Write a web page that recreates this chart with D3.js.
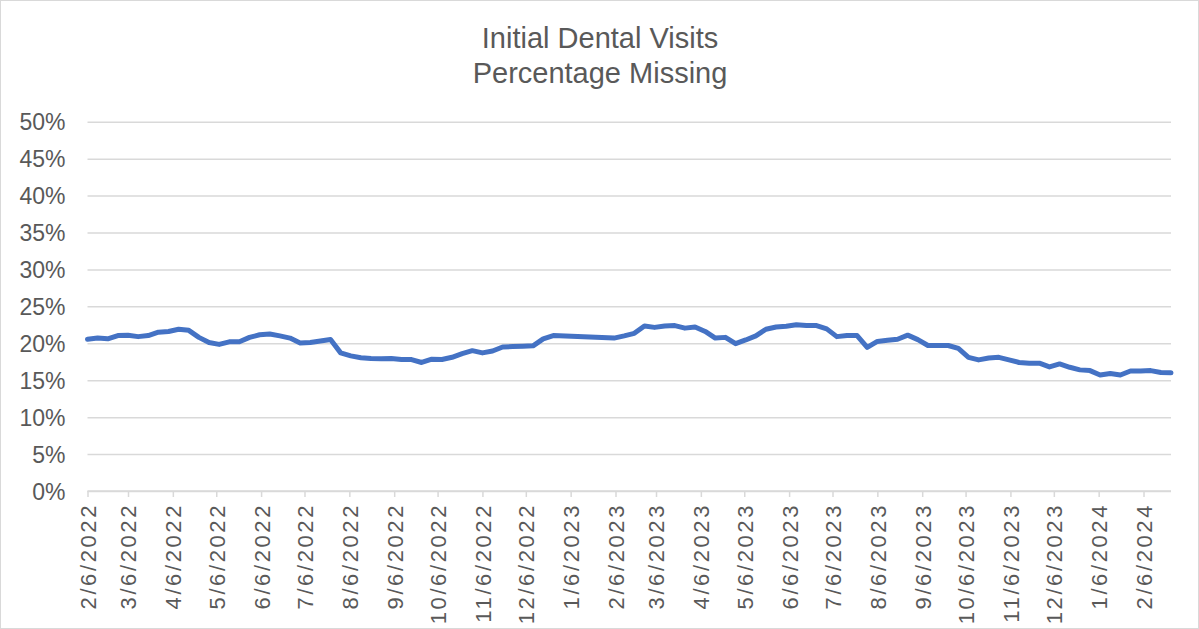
<!DOCTYPE html>
<html>
<head>
<meta charset="utf-8">
<script src="https://cdn.jsdelivr.net/npm/d3@7"></script>
<style>
  body { margin: 0; background: #fff; }
  svg { display: block; }
  text { font-family: "Liberation Sans", Arial, sans-serif; fill: #595959; }
</style>
</head>
<body>
<svg id="chart" width="1199" height="629"></svg>
<script>
// Chart title, two lines
const titleLines = ["Initial Dental Visits", "Percentage Missing"];

// Weekly series, first week ending 2/6/2022; null = week with no report
const firstWeek = "2/6/2022";
const missingPct = [
  20.55, 20.7, 20.6, 21.05, 21.1, 20.9, 21.05, 21.5, 21.6, 21.9,
  21.75, 20.8, 20.1, 19.85, 20.2, 20.2, 20.8, 21.15, 21.25, 21.0,
  20.7, 20.05, 20.1, 20.3, 20.5, 18.7, 18.3, 18.05, 17.95, 17.9,
  17.95, 17.8, 17.8, 17.4, 17.85, 17.8, 18.1, 18.6, 19.0, 18.7,
  18.95, 19.5, 19.55, 19.6, 19.65, 20.6, 21.05, null, null, null,
  null, null, 20.7, 21.0, 21.35, 22.35, 22.15, 22.35, 22.4, 22.05,
  22.2, 21.6, 20.7, 20.8, 19.95, 20.45, 21.0, 21.9, 22.2, 22.3,
  22.5, 22.4, 22.4, 21.95, 20.9, 21.05, 21.05, 19.45, 20.25, 20.4,
  20.55, 21.1, 20.5, 19.7, 19.7, 19.7, 19.3, 18.1, 17.75, 18.0,
  18.1, 17.75, 17.4, 17.3, 17.3, 16.8, 17.2, 16.75, 16.4, 16.3,
  15.7, 15.9, 15.7, 16.25, 16.25, 16.3, 16.05, 16.0
];

// Axis ticks
const yTickValues = [0, 5, 10, 15, 20, 25, 30, 35, 40, 45, 50];
const xTickLabels = [
  "2/6/2022", "3/6/2022", "4/6/2022", "5/6/2022", "6/6/2022", "7/6/2022",
  "8/6/2022", "9/6/2022", "10/6/2022", "11/6/2022", "12/6/2022", "1/6/2023",
  "2/6/2023", "3/6/2023", "4/6/2023", "5/6/2023", "6/6/2023", "7/6/2023",
  "8/6/2023", "9/6/2023", "10/6/2023", "11/6/2023", "12/6/2023", "1/6/2024",
  "2/6/2024"
];

const parseDate = d3.utcParse("%m/%d/%Y");
const fmtDate = d => `${d.getUTCMonth() + 1}/${d.getUTCDate()}/${d.getUTCFullYear()}`;

const start = parseDate(firstWeek);
const points = missingPct
  .map((v, i) => ({ date: d3.utcDay.offset(start, i * 7), value: v }))
  .filter(d => d.value !== null);
const lastDate = d3.utcDay.offset(start, (missingPct.length - 1) * 7);
const xTicks = xTickLabels.map(parseDate);

const svg = d3.select("#chart");
const W = 1199, H = 629;
const plot = { left: 87.5, right: 1171, top: 121.7, bottom: 491 };

// chart frame
svg.append("rect")
  .attr("x", 0.5).attr("y", 0.5)
  .attr("width", W - 1).attr("height", H - 1)
  .attr("fill", "#fff").attr("stroke", "#D9D9D9").attr("stroke-width", 1);

const x = d3.scaleUtc().domain([start, lastDate]).range([plot.left, plot.right]);
const y = d3.scaleLinear().domain([0, 50]).range([plot.bottom, plot.top]);

// title
svg.append("g").selectAll("text").data(titleLines).join("text")
  .attr("x", 600)
  .attr("y", (d, i) => 48 + i * 35)
  .attr("text-anchor", "middle")
  .style("font-size", "29px")
  .text(d => d);

// horizontal gridlines + y labels
const yAxis = d3.axisLeft(y)
  .tickValues(yTickValues)
  .tickSize(-(plot.right - plot.left))
  .tickPadding(22)
  .tickFormat(d => d + "%");
const gy = svg.append("g")
  .attr("transform", `translate(${plot.left},0)`)
  .call(yAxis);
gy.select(".domain").remove();
gy.selectAll(".tick line").attr("stroke", "#D9D9D9").attr("stroke-width", 1.5);
gy.selectAll(".tick text")
  .style("font-size", "23px")
  .attr("fill", "#595959")
  .attr("dy", "0.36em");

// x axis with monthly ticks
const xAxis = d3.axisBottom(x)
  .tickValues(xTicks)
  .tickSize(6)
  .tickPadding(0)
  .tickFormat(fmtDate);
const gx = svg.append("g")
  .attr("transform", `translate(0,${plot.bottom})`)
  .call(xAxis);
gx.select(".domain").attr("stroke", "#D9D9D9").attr("stroke-width", 1.5)
  .attr("d", `M${plot.left},0H${plot.right}`);
gx.selectAll(".tick line").attr("stroke", "#D9D9D9").attr("stroke-width", 1.5);
gx.selectAll(".tick text")
  .style("font-size", "22px")
  .style("letter-spacing", "2.6px")
  .attr("fill", "#595959")
  .attr("text-anchor", "end")
  .attr("transform", "translate(0,12) rotate(-90)")
  .attr("x", 0).attr("y", 0)
  .attr("dy", "0.36em");

// series line
const line = d3.line()
  .x(d => x(d.date))
  .y(d => y(d.value));
svg.append("path")
  .datum(points)
  .attr("fill", "none")
  .attr("stroke", "#4472C4")
  .attr("stroke-width", 5)
  .attr("stroke-linejoin", "round")
  .attr("stroke-linecap", "round")
  .attr("d", line);
</script>
</body>
</html>
